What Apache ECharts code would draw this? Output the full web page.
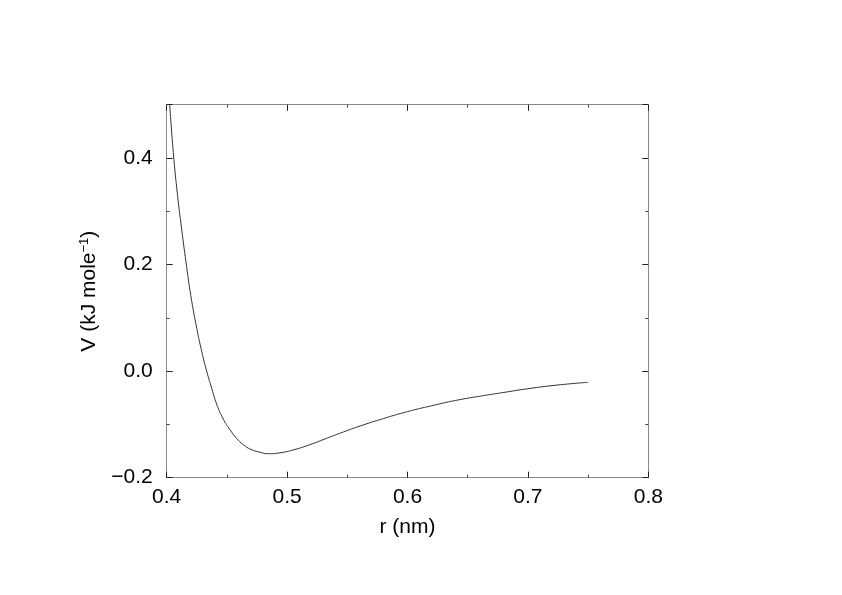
<!DOCTYPE html>
<html>
<head>
<meta charset="utf-8">
<script src="https://cdn.jsdelivr.net/npm/echarts@6/dist/echarts.min.js"></script>
<style>
html,body{margin:0;padding:0;background:#fff;}
#c{width:842px;height:595px;}
</style>
</head>
<body>
<div id="c"></div>
<script>
// r (nm) values
const rValues = [0.4025, 0.4055, 0.4090, 0.4125, 0.4160, 0.4200, 0.4250, 0.4290, 0.4332, 0.4375, 0.4415, 0.4470, 0.4526, 0.4580, 0.4636, 0.4700, 0.4770, 0.4844, 0.4950, 0.5050, 0.5190, 0.5330, 0.5470, 0.5606, 0.5800, 0.6000, 0.6200, 0.6400, 0.6630, 0.6800, 0.7000, 0.7250, 0.7500];
// V (kJ mole^-1) values
const vValues = [0.500, 0.410, 0.330, 0.265, 0.205, 0.142, 0.080, 0.038, 0.000, -0.033, -0.062, -0.090, -0.110, -0.126, -0.138, -0.147, -0.152, -0.155, -0.153, -0.148, -0.138, -0.126, -0.114, -0.103, -0.089, -0.076, -0.065, -0.055, -0.046, -0.040, -0.033, -0.026, -0.021];
const xTicks = [0.4, 0.5, 0.6, 0.7, 0.8];
const yTicks = [-0.2, 0.0, 0.2, 0.4];

const data = rValues.map((r, i) => [r, vValues[i]]);
const font = 'Liberation Sans, Arial, Helvetica, sans-serif';
const fmt = v => {
  const s = Math.abs(v).toFixed(1);
  return v < -1e-9 ? '\u2212' + s : s;
};
const frameLine = {show: true, onZero: false, lineStyle: {color: '#888', width: 1}};
const tick = {show: true, inside: true, length: 6, lineStyle: {color: '#222', width: 1}};
const minor = {show: true, splitNumber: 2, length: 3, lineStyle: {color: '#444', width: 1}};

const chart = echarts.init(document.getElementById('c'), null, {renderer: 'canvas'});
chart.setOption({
  animation: false,
  backgroundColor: '#fff',
  grid: {left: 166.7, right: 193.7, top: 104.7, bottom: 117.3, containLabel: false},
  xAxis: [{
    type: 'value', position: 'bottom', min: 0.4, max: 0.8, interval: 0.1,
    axisLine: frameLine, axisTick: tick, minorTick: minor, splitLine: {show: false},
    axisLabel: {color: '#000', fontSize: 21, fontFamily: font, margin: 9,
      formatter: v => xTicks.some(t => Math.abs(t - v) < 1e-9) ? v.toFixed(1) : ''},
    name: 'r (nm)', nameLocation: 'middle', nameGap: 39,
    nameTextStyle: {color: '#000', fontSize: 21, fontFamily: font}
  }, {
    type: 'value', position: 'top', min: 0.4, max: 0.8, interval: 0.1,
    axisLine: frameLine, axisTick: tick, minorTick: minor, splitLine: {show: false},
    axisLabel: {show: false}
  }],
  yAxis: [{
    type: 'value', position: 'left', min: -0.2, max: 0.5, interval: 0.2,
    axisLine: frameLine, axisTick: tick, minorTick: minor, splitLine: {show: false},
    axisLabel: {color: '#000', fontSize: 21, fontFamily: font, margin: 14,
      formatter: v => yTicks.some(t => Math.abs(t - v) < 1e-9) ? fmt(v) : ''},
    name: 'V (kJ mole{sup|\u22121})', nameLocation: 'middle', nameGap: 66, nameRotate: 90,
    nameTextStyle: {color: '#000', fontSize: 21, fontFamily: font,
      rich: {sup: {fontSize: 13, fontFamily: font, color: '#000', verticalAlign: 'top', padding: [0, 0, 10, 0]}}}
  }, {
    type: 'value', position: 'right', min: -0.2, max: 0.5, interval: 0.2,
    axisLine: frameLine, axisTick: tick, minorTick: minor, splitLine: {show: false},
    axisLabel: {show: false}
  }],
  series: [{
    type: 'line', xAxisIndex: 0, yAxisIndex: 0, data: data,
    showSymbol: false, smooth: 0.5, clip: true,
    lineStyle: {color: '#333', width: 1}
  }]
});
</script>
</body>
</html>
